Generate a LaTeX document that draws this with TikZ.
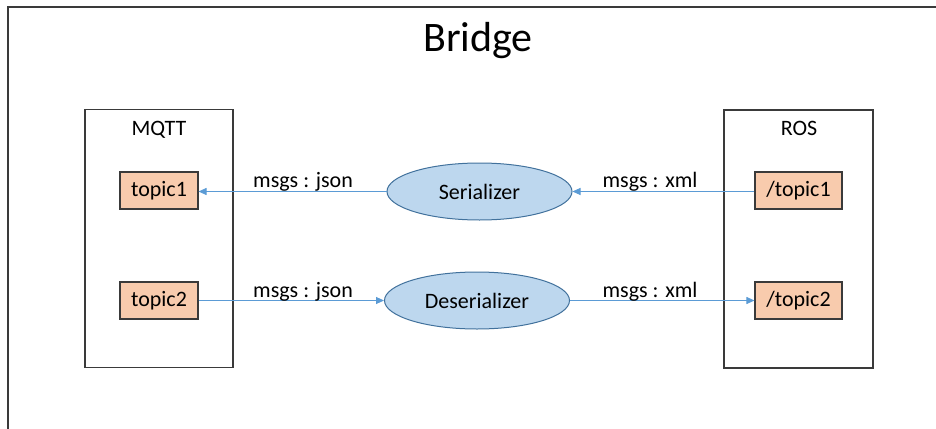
\documentclass[tikz,border=0pt]{standalone}
\usepackage{fontspec}
\setmainfont{Carlito}
\usetikzlibrary{shapes.geometric,arrows.meta}
\definecolor{topicfill}{HTML}{F8CBAD}
\definecolor{ellfill}{HTML}{BDD7EE}
\definecolor{elldraw}{HTML}{41719C}
\definecolor{arrowcol}{HTML}{5B9BD5}
\definecolor{boxdraw}{HTML}{3A3A3A}
\tikzset{
  groupbox/.style={draw=boxdraw, line width=1.3pt, minimum width=#1, minimum height=258pt, inner sep=0pt},
  topicbox/.style={draw=boxdraw, fill=topicfill, line width=1.1pt, minimum height=37pt, minimum width=#1, inner sep=0pt, font=\fontsize{22}{26}\selectfont},
  procell/.style={ellipse, draw=elldraw, fill=ellfill, line width=1pt, minimum width=185pt, minimum height=57pt, inner sep=0pt, font=\fontsize{22}{26}\selectfont},
  lbl/.style={anchor=base, inner sep=0pt, font=\fontsize{22}{26}\selectfont},
  flow/.style={draw=arrowcol, line width=0.9pt, -{Triangle[length=8pt,width=7pt]}}
}
\begin{document}
\begin{tikzpicture}[x=1pt,y=-1pt]
\useasboundingbox (0,0) rectangle (936,428);
\begin{scope}
\clip (0,0) rectangle (936,428);
\draw[draw=boxdraw, line width=1.5pt] (8,7) rectangle (960,460);
\end{scope}
\node[lbl, font=\fontsize{42}{48}\selectfont] (title) at (478,52) {Bridge};

\node[groupbox=148pt] (mqtt) at (159,238.5) {};
\node[lbl] (mqttlbl) at (159,135) {MQTT};
\node[groupbox=149pt] (ros) at (798.5,239) {};
\node[lbl] (roslbl) at (799,135) {ROS};

\node[topicbox=78pt] (t1) at (159,190.5) {topic1};
\node[topicbox=78pt] (t2) at (159,300.5) {topic2};
\node[topicbox=87pt] (rt1) at (798.5,190.5) {/topic1};
\node[topicbox=87pt] (rt2) at (798.5,300.5) {/topic2};

\node[procell] (ser) at (479.5,191.5) {Serializer};
\node[procell] (des) at (477,300.5) {Deserializer};

\draw[flow] (ser.west) -- (ser.west -| t1.east);
\draw[flow] (rt1.west |- ser.east) -- (ser.east);
\draw[flow] (t2.east |- des.west) -- (des.west);
\draw[flow] (des.east) -- (des.east -| rt2.west);

\node[lbl] (l1) at (303,187) {msgs : json};
\node[lbl] (l2) at (650,187) {msgs : xml};
\node[lbl] (l3) at (303,297) {msgs : json};
\node[lbl] (l4) at (650,297) {msgs : xml};
\end{tikzpicture}
\end{document}
